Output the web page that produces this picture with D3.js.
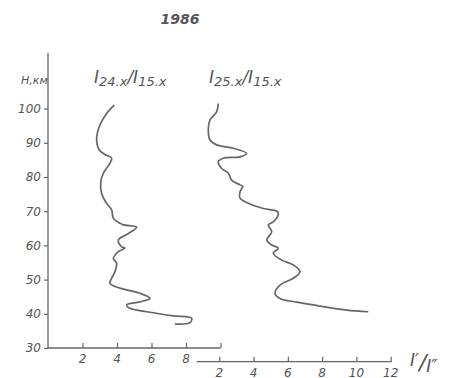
<!DOCTYPE html>
<html>
<head>
<meta charset="utf-8">
<script src="https://d3js.org/d3.v7.min.js"></script>
<style>
  body { margin: 0; background: #fff; }
  svg text { font-family: 'DejaVu Sans', sans-serif; font-style: italic; fill: #555; }
</style>
</head>
<body>
<svg></svg>
<script>
// heights (km) and ratios
var heights24 = [101.0, 98.6, 95.2, 91.3, 87.9, 86.6, 85.5, 84.0, 81.1, 78.6, 75.2, 72.3, 70.4, 67.9, 66.5, 66.0, 65.3, 63.5, 61.6, 59.6, 59.2, 58.2, 56.2, 54.8, 52.3, 50.4, 48.9, 47.5, 46.0, 44.5, 43.5, 42.6, 41.6, 40.6, 39.4, 38.7, 37.4, 37.0];
var ratio24 = [3.84, 3.40, 3.01, 2.82, 2.97, 3.30, 3.69, 3.59, 3.21, 3.06, 3.11, 3.40, 3.69, 3.79, 4.17, 4.37, 5.14, 4.66, 4.08, 4.27, 4.46, 4.08, 3.79, 3.98, 3.88, 3.69, 3.59, 4.17, 5.33, 5.91, 5.33, 4.56, 4.75, 5.72, 7.26, 8.33, 8.23, 7.36];

var heights25 = [101.5, 99.1, 96.7, 94.2, 90.8, 89.4, 88.4, 86.9, 85.9, 85.5, 84.5, 82.5, 81.1, 79.1, 77.7, 77.2, 75.7, 73.8, 72.3, 70.8, 69.9, 68.9, 66.9, 66.0, 64.0, 61.6, 60.1, 59.2, 57.7, 55.7, 54.3, 52.3, 50.4, 48.4, 46.0, 44.5, 43.4, 42.1, 41.1, 40.6];
var ratio25 = [1.94, 1.85, 1.46, 1.36, 1.46, 1.85, 2.82, 3.60, 3.21, 2.23, 1.94, 2.14, 2.53, 2.72, 3.21, 3.37, 3.21, 3.21, 3.69, 4.57, 5.39, 5.44, 5.15, 4.86, 5.06, 4.77, 5.06, 5.44, 5.15, 5.64, 6.32, 6.71, 6.32, 5.54, 5.25, 5.54, 6.52, 8.07, 9.43, 10.69];

var hTicks = [30, 40, 50, 60, 70, 80, 90, 100];
var xTicks1 = [2, 4, 6, 8, 10];
var xTicks2 = [2, 4, 6, 8, 10, 12];

var width = 456, height = 378;
var ink = '#666';

var svg = d3.select('svg').attr('width', width).attr('height', height);

var y = d3.scaleLinear().domain([30, 100]).range([348, 108.6]);
var x1 = d3.scaleLinear().domain([0, 10]).range([48, 220.5]);
var x2 = d3.scaleLinear().domain([0, 12]).range([185, 390.7]);

// vertical axis
var yAxis = d3.axisLeft(y).tickValues(hTicks).tickSize(4).tickPadding(3);
var gy = svg.append('g').attr('transform', 'translate(48,0)').call(yAxis);
gy.select('.domain').remove();
svg.append('line').attr('x1', 48).attr('x2', 48).attr('y1', 53).attr('y2', 348)
  .attr('stroke', ink).attr('stroke-width', 1.3);

// first bottom axis
var ax1 = d3.axisTop(x1).tickValues(xTicks1).tickSize(5).tickFormat('');
var g1 = svg.append('g').attr('transform', 'translate(0,348)').call(ax1);
g1.select('.domain').remove();
svg.append('line').attr('x1', 48).attr('x2', 220.5).attr('y1', 348).attr('y2', 348)
  .attr('stroke', ink).attr('stroke-width', 1.3);
svg.selectAll('.lab1').data(xTicks1.slice(0, 4)).enter().append('text')
  .attr('x', function (d) { return x1(d); }).attr('y', 363)
  .attr('text-anchor', 'middle').attr('font-size', 12).text(function (d) { return d; });

// second bottom axis
var ax2 = d3.axisTop(x2).tickValues(xTicks2).tickSize(5).tickFormat('');
var g2 = svg.append('g').attr('transform', 'translate(0,361.7)').call(ax2);
g2.select('.domain').remove();
svg.append('line').attr('x1', 196.7).attr('x2', 391.7).attr('y1', 361.7).attr('y2', 361.7)
  .attr('stroke', ink).attr('stroke-width', 1.3);
svg.selectAll('.lab2').data(xTicks2).enter().append('text')
  .attr('x', function (d) { return x2(d); }).attr('y', 376.5)
  .attr('text-anchor', 'middle').attr('font-size', 12).text(function (d) { return d; });

svg.selectAll('.tick line').attr('stroke', ink).attr('stroke-width', 1.2);
gy.selectAll('.tick text').attr('font-size', 12).style('font-family', "'DejaVu Sans', sans-serif").style('font-style', 'italic').attr('fill', '#555');

// curves
var line24 = d3.line()
  .x(function (d, i) { return x1(ratio24[i]); })
  .y(function (d, i) { return y(heights24[i]); })
  .curve(d3.curveCatmullRom.alpha(0.5));
var line25 = d3.line()
  .x(function (d, i) { return x2(ratio25[i]); })
  .y(function (d, i) { return y(heights25[i]); })
  .curve(d3.curveCatmullRom.alpha(0.5));

svg.append('path').attr('d', line24(heights24)).attr('fill', 'none')
  .attr('stroke', ink).attr('stroke-width', 1.7);
svg.append('path').attr('d', line25(heights25)).attr('fill', 'none')
  .attr('stroke', ink).attr('stroke-width', 1.7);

// texts
svg.append('text').attr('x', 180).attr('y', 24).attr('text-anchor', 'middle')
  .attr('font-size', 14).attr('font-weight', 'bold').text('1986');
svg.append('text').attr('x', 21).attr('y', 84).attr('font-size', 11).text('H,км');

function seriesLabel(xPos, a, b) {
  var t = svg.append('text').attr('x', xPos).attr('y', 83).attr('font-size', 17);
  t.append('tspan').text('I');
  t.append('tspan').attr('font-size', 13).attr('dy', 3).text(a);
  t.append('tspan').attr('dy', -3).text('/I');
  t.append('tspan').attr('font-size', 13).attr('dy', 3).text(b);
}
seriesLabel(94, '24.x', '15.x');
seriesLabel(209, '25.x', '15.x');

var rl = svg.append('text').attr('x', 410).attr('y', 368).attr('font-size', 17);
rl.append('tspan').attr('dy', -2).text('I′');
rl.append('tspan').attr('font-size', 22).attr('dy', 4).text('/');
rl.append('tspan').attr('dy', 2).text('I″');
</script>
</body>
</html>
